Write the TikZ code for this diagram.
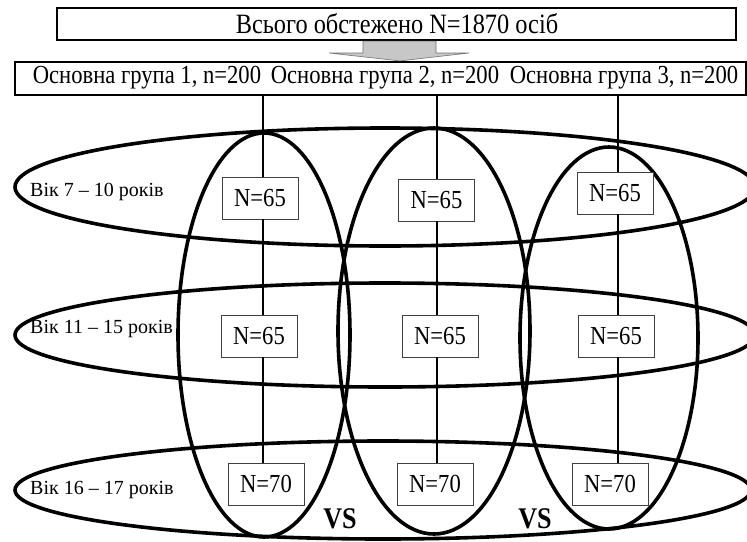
\documentclass[tikz,border=0pt]{standalone}
\usepackage{fontspec}
\setmainfont{Liberation Serif}
\newfontfamily\condfont[FakeStretch=0.87]{Liberation Serif}
\begin{document}
\begin{tikzpicture}[x=1pt,y=-1pt,
  hdr/.style={draw=black, line width=2.2pt, fill=white, inner sep=0pt},
  hdrtext/.style={font=\condfont\fontsize{26}{26}\selectfont, inner sep=0pt},
  nbox/.style={draw=black!75, line width=0.9pt, fill=white, minimum width=76pt, minimum height=42pt, inner sep=0pt, font=\condfont\fontsize{26}{26}\selectfont},
  ell/.style={line width=3.6pt},
  conn/.style={line width=2.4pt},
  agelbl/.style={font=\fontsize{20}{20}\selectfont, anchor=west, inner sep=0pt},
  vslbl/.style={font=\condfont\bfseries\fontsize{30}{30}\selectfont, inner sep=0pt}
]
\useasboundingbox (0,0) rectangle (747,541);
\clip (0,0) rectangle (747,541);
\fill[white] (0,0) rectangle (747,541);

% ellipses
\draw[ell] (385,187) ellipse [x radius=370pt, y radius=59pt];
\draw[ell] (385,335) ellipse [x radius=370pt, y radius=52pt];
\draw[ell] (383,490) ellipse [x radius=368pt, y radius=49pt];
\draw[ell] (264,335) ellipse [x radius=86pt, y radius=202pt];
\draw[ell] (434,331) ellipse [x radius=96pt, y radius=203pt];
\draw[ell] (609,338) ellipse [x radius=89pt, y radius=191pt];

% header boxes
\node[hdr, minimum width=679pt, minimum height=32pt] (top) at (396.5,24) {};
\node[font=\condfont\fontsize{28}{28}\selectfont, inner sep=0pt] (toptext) at (397,24) {Всього обстежено N=1870 осіб};
\node[hdr, minimum width=731pt, minimum height=33pt] (groups) at (380.5,78.5) {};
\node[hdrtext] (g1) at (147,78) {Основна група 1, n=200};
\node[hdrtext] (g2) at (385,78) {Основна група 2, n=200};
\node[hdrtext] (g3) at (624,78) {Основна група 3, n=200};

% arrow
\draw[draw=black!55, fill=black!22, line width=0.6pt]
  (top.south -| 363,0) -- (363,53) -- (329,53) -- (groups.north -| 400,0) -- (469,53) -- (436,53) -- (top.south -| 436,0) -- cycle;

% N boxes
\node[nbox] (n11) at (260,198) {N=65};
\node[nbox] (n12) at (436.5,200) {N=65};
\node[nbox] (n13) at (615,193) {N=65};
\node[nbox] (n21) at (259,336) {N=65};
\node[nbox] (n22) at (440,336) {N=65};
\node[nbox] (n23) at (616,336) {N=65};
\node[nbox] (n31) at (266,484) {N=70};
\node[nbox] (n32) at (435,484) {N=70};
\node[nbox] (n33) at (610,484) {N=70};

% connectors
\coordinate (t1) at (263,95);
\coordinate (t2) at (437,95);
\coordinate (t3) at (618,95);
\draw[conn] (t1) -- (t1 |- n11.north);
\draw[conn] (t1 |- n11.south) -- (t1 |- n21.north);
\draw[conn] (t1 |- n21.south) -- (t1 |- n31.north);
\draw[conn] (t2) -- (t2 |- n12.north);
\draw[conn] (t2 |- n12.south) -- (t2 |- n22.north);
\draw[conn] (t2 |- n22.south) -- (t2 |- n32.north);
\draw[conn] (t3) -- (t3 |- n13.north);
\draw[conn] (t3 |- n13.south) -- (t3 |- n23.north);
\draw[conn] (t3 |- n23.south) -- (t3 |- n33.north);

% age labels
\node[agelbl] (a1) at (30,192) {Вік 7 – 10 років};
\node[agelbl] (a2) at (30,329) {Вік 11 – 15 років};
\node[agelbl] (a3) at (30,490) {Вік 16 – 17 років};

% VS
\node[vslbl] (vs1) at (340,519) {VS};
\node[vslbl] (vs2) at (535,519) {VS};
\end{tikzpicture}
\end{document}
